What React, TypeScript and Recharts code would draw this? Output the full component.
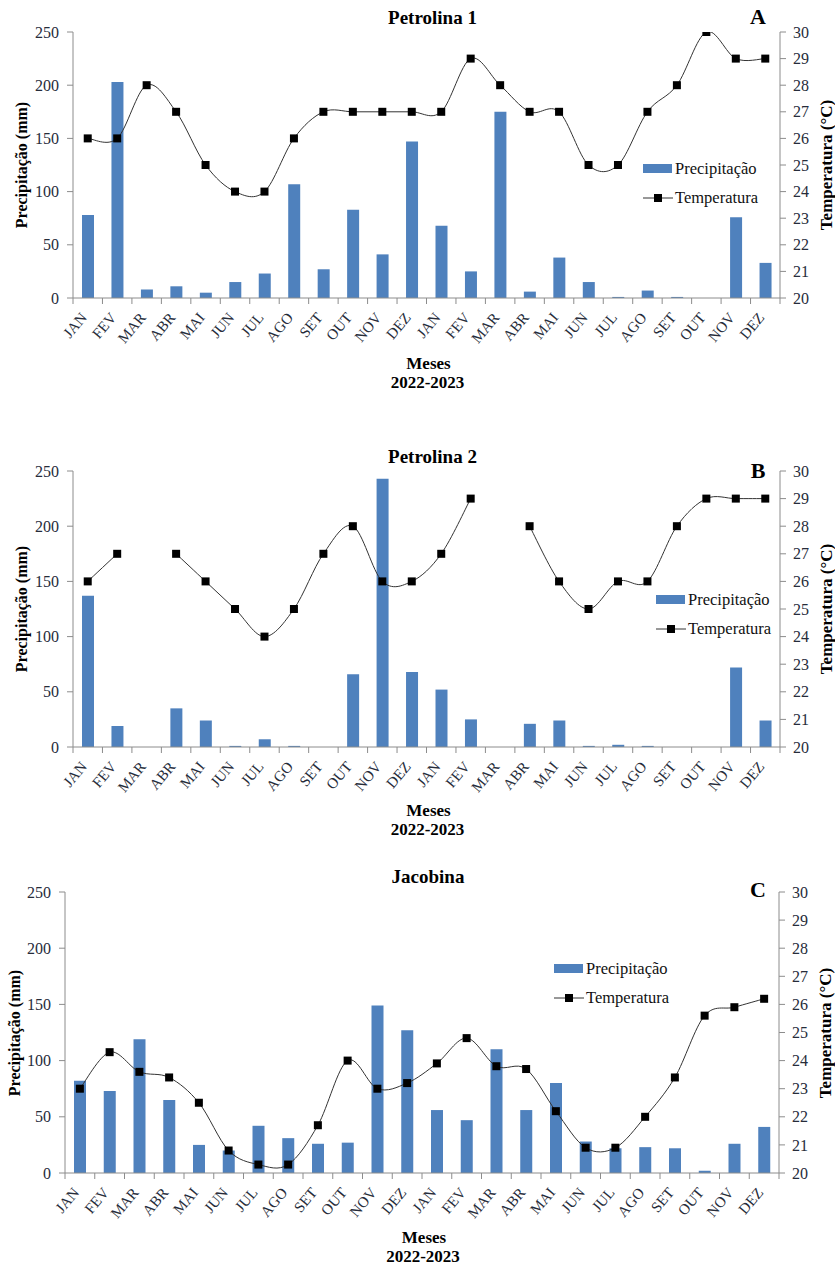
import React from "react";
import {
  ComposedChart,
  Bar,
  Line,
  XAxis,
  YAxis,
  Legend
} from "recharts";

const months = [
  "JAN", "FEV", "MAR", "ABR", "MAI", "JUN", "JUL", "AGO", "SET", "OUT", "NOV", "DEZ",
  "JAN", "FEV", "MAR", "ABR", "MAI", "JUN", "JUL", "AGO", "SET", "OUT", "NOV", "DEZ"
];

// Petrolina 1
const precipA = [78, 203, 8, 11, 5, 15, 23, 107, 27, 83, 41, 147, 68, 25, 175, 6, 38, 15, 1, 7, 1, 0, 76, 33];
const tempA = [26, 26, 28, 27, 25, 24, 24, 26, 27, 27, 27, 27, 27, 29, 28, 27, 27, 25, 25, 27, 28, 30, 29, 29];

// Petrolina 2 (no temperature in MAR)
const precipB = [137, 19, 0, 35, 24, 1, 7, 1, 0, 66, 243, 68, 52, 25, 0, 21, 24, 1, 2, 1, 0, 0, 72, 24];
const tempB = [26, 27, null, 27, 26, 25, 24, 25, 27, 28, 26, 26, 27, 29, null, 28, 26, 25, 26, 26, 28, 29, 29, 29];

// Jacobina
const precipC = [82, 73, 119, 65, 25, 20, 42, 31, 26, 27, 149, 127, 56, 47, 110, 56, 80, 28, 22, 23, 22, 2, 26, 41];
const tempC = [23.0, 24.3, 23.6, 23.4, 22.5, 20.8, 20.3, 20.3, 21.7, 24.0, 23.0, 23.2, 23.9, 24.8, 23.8, 23.7, 22.2, 20.9, 20.9, 22.0, 23.4, 25.6, 25.9, 26.2];

const precipTicks = [0, 50, 100, 150, 200, 250];
const tempTicks = [20, 21, 22, 23, 24, 25, 26, 27, 28, 29, 30];

const BLUE = "#4F81BD";
const AXIS = "#8c8c8c";
const TICK_TXT = "#262c3a";
const SERIF = "Liberation Serif";

const buildRows = (precip: number[], temp: (number | null)[]) =>
  months.map((m, i) => ({ mes: m + i, label: m, precip: precip[i], temp: temp[i] }));

// excel-ish smoothed line (catmull-rom as bezier)
function smoothCurve(context: any) {
  let pts: number[][] = [];
  return {
    areaStart() {},
    areaEnd() {},
    lineStart() {
      pts = [];
    },
    lineEnd() {
      if (!pts.length) return;
      context.moveTo(pts[0][0], pts[0][1]);
      for (let i = 0; i < pts.length - 1; i++) {
        const p0 = pts[i - 1] || pts[i];
        const p1 = pts[i];
        const p2 = pts[i + 1];
        const p3 = pts[i + 2] || p2;
        context.bezierCurveTo(
          p1[0] + (p2[0] - p0[0]) / 6,
          p1[1] + (p2[1] - p0[1]) / 6,
          p2[0] - (p3[0] - p1[0]) / 6,
          p2[1] - (p3[1] - p1[1]) / 6,
          p2[0],
          p2[1]
        );
      }
    },
    point(x: number, y: number) {
      pts.push([+x, +y]);
    }
  };
}

const SquareDot = (props: any) => {
  const { cx, cy, value } = props;
  if (value == null || cx == null || cy == null) return null;
  return <rect x={cx - 4} y={cy - 4} width={8} height={8} fill="#000" />;
};

const MonthTick = (props: any) => {
  const { x, y, payload, index, band } = props;
  const label = String(payload.value).slice(0, 3);
  const ax = x;
  const ay = y + 20;
  return (
    <g>
      <line x1={x - band / 2} x2={x - band / 2} y1={y} y2={y + 6} stroke={AXIS} />
      {index === months.length - 1 && (
        <line x1={x + band / 2} x2={x + band / 2} y1={y} y2={y + 6} stroke={AXIS} />
      )}
      <text
        x={ax}
        y={ay}
        textAnchor="end"
        fill={TICK_TXT}
        style={{ fontSize: 15, fontFamily: SERIF }}
        transform={`rotate(-50, ${ax}, ${ay})`}
      >
        {label}
      </text>
    </g>
  );
};

const renderLegend = () => (
  <div style={{ fontFamily: SERIF, fontSize: 16.5, color: "#111" }}>
    <div style={{ display: "flex", alignItems: "center", height: 29 }}>
      <svg width={30} height={10}>
        <rect x={0} y={0} width={29} height={9} fill={BLUE} />
      </svg>
      <span style={{ marginLeft: 2 }}>Precipitação</span>
    </div>
    <div style={{ display: "flex", alignItems: "center", height: 29 }}>
      <svg width={30} height={10}>
        <line x1={0} x2={30} y1={5} y2={5} stroke="#333" />
        <rect x={11} y={1} width={8} height={8} fill="#000" />
      </svg>
      <span style={{ marginLeft: 2 }}>Temperatura</span>
    </div>
  </div>
);

interface PanelProps {
  top: number;
  height: number;
  plotTop: number;
  plotBottom: number;
  plotLeft: number;
  plotRight: number;
  precip: number[];
  temp: (number | null)[];
  title: string;
  letter: string;
  titleY: number;
  letterY: number;
  legendLeft: number;
  legendTop: number;
  mesesY: number;
  leftLabelX: number;
  rightLabelX: number;
}

function Panel(p: PanelProps) {
  const data = buildRows(p.precip, p.temp);
  const xAxisH = 40;
  const band = (p.plotRight - p.plotLeft) / months.length;
  const midY = (p.plotTop + p.plotBottom) / 2;
  const midX = (p.plotLeft + p.plotRight) / 2;
  const abs = (x: number, y: number, extra: any = {}) => ({
    position: "absolute" as const,
    left: x,
    top: y,
    transform: "translate(-50%, -50%)",
    whiteSpace: "nowrap" as const,
    fontFamily: SERIF,
    fontWeight: "bold" as const,
    color: "#000",
    lineHeight: 1,
    ...extra
  });
  const tickStyle = { fill: TICK_TXT, fontSize: 16, fontFamily: SERIF };
  return (
    <>
      <div style={{ position: "absolute", left: 0, top: p.top }}>
        <ComposedChart
          width={835}
          height={p.height}
          data={data}
          margin={{
            top: p.plotTop - p.top,
            left: p.plotLeft - 60,
            right: 835 - p.plotRight - 55,
            bottom: p.top + p.height - p.plotBottom - xAxisH
          }}
        >
          <XAxis
            dataKey="mes"
            height={xAxisH}
            interval={0}
            tickSize={0}
            tickMargin={0}
            axisLine={{ stroke: AXIS }}
            tickLine={false}
            tick={<MonthTick band={band} />}
          />
          <YAxis
            yAxisId="p"
            width={60}
            domain={[0, 250]}
            ticks={precipTicks}
            allowDataOverflow
            axisLine={{ stroke: AXIS }}
            tickLine={{ stroke: AXIS }}
            tickSize={6}
            tickMargin={8}
            tick={tickStyle}
          />
          <YAxis
            yAxisId="t"
            orientation="right"
            width={55}
            domain={[20, 30]}
            ticks={tempTicks}
            allowDataOverflow
            axisLine={{ stroke: AXIS }}
            tickLine={{ stroke: AXIS }}
            tickSize={6}
            tickMargin={7}
            tick={tickStyle}
          />
          <Legend
            layout="horizontal"
            align="center"
            verticalAlign="middle"
            content={renderLegend}
            wrapperStyle={{ position: "absolute", left: p.legendLeft, top: p.legendTop - p.top, width: 150 }}
          />
          <Bar
            yAxisId="p"
            dataKey="precip"
            name="Precipitação"
            fill={BLUE}
            barSize={12}
            isAnimationActive={false}
          />
          <Line
            yAxisId="t"
            dataKey="temp"
            name="Temperatura"
            type={smoothCurve as any}
            stroke="#333"
            strokeWidth={1}
            dot={<SquareDot />}
            activeDot={false}
            connectNulls={false}
            isAnimationActive={false}
          />
        </ComposedChart>
      </div>
      <div style={abs(midX + 6, p.titleY, { fontSize: 19 })}>{p.title}</div>
      <div style={abs(758, p.letterY, { fontSize: 22 })}>{p.letter}</div>
      <div style={abs(midX + 2, p.mesesY, { fontSize: 17 })}>Meses</div>
      <div style={abs(midX + 1, p.mesesY + 19, { fontSize: 17 })}>2022-2023</div>
      <div style={abs(p.leftLabelX, midY, { fontSize: 16, transform: "translate(-50%, -50%) rotate(-90deg)" })}>
        Precipitação (mm)
      </div>
      <div style={abs(p.rightLabelX, midY, { fontSize: 17, transform: "translate(-50%, -50%) rotate(-90deg)" })}>
        Temperatura (°C)
      </div>
    </>
  );
}

export default function App() {
  return (
    <div style={{ position: "absolute", left: 0, top: 0, width: 835, height: 1268, background: "#fff" }}>
      <Panel
        top={0}
        height={400}
        plotTop={32}
        plotBottom={298}
        plotLeft={73}
        plotRight={780}
        precip={precipA}
        temp={tempA}
        title="Petrolina 1"
        letter="A"
        titleY={17}
        letterY={17}
        legendLeft={643}
        legendTop={154}
        mesesY={363}
        leftLabelX={22}
        rightLabelX={826}
      />
      <Panel
        top={430}
        height={410}
        plotTop={471}
        plotBottom={747}
        plotLeft={73}
        plotRight={780}
        precip={precipB}
        temp={tempB}
        title="Petrolina 2"
        letter="B"
        titleY={456}
        letterY={471}
        legendLeft={656}
        legendTop={585}
        mesesY={810}
        leftLabelX={22}
        rightLabelX={826}
      />
      <Panel
        top={860}
        height={408}
        plotTop={892}
        plotBottom={1173}
        plotLeft={65}
        plotRight={779}
        precip={precipC}
        temp={tempC}
        title="Jacobina"
        letter="C"
        titleY={876}
        letterY={890}
        legendLeft={554}
        legendTop={954}
        mesesY={1237}
        leftLabelX={15}
        rightLabelX={825}
      />
    </div>
  );
}
